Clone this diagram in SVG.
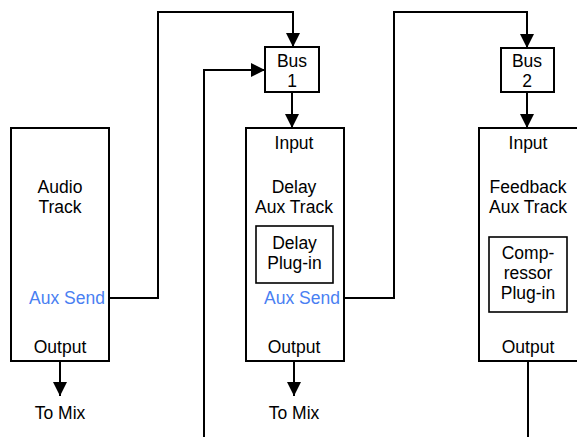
<svg xmlns="http://www.w3.org/2000/svg" width="577" height="437" viewBox="0 0 577 437">
<defs>
<marker id="ah" markerWidth="14" markerHeight="14" viewBox="0 0 14 14" refX="14" refY="7" orient="auto" markerUnits="userSpaceOnUse">
<path d="M0,0 L14,7 L0,14 Z" fill="#000"/>
</marker>
<style>
.box{fill:#fff;stroke:#000;stroke-width:2}
.inner{fill:#fff;stroke:#000;stroke-width:1.6}
.t{font-family:"Liberation Sans",Arial,sans-serif;font-size:17.5px;fill:#000;text-anchor:middle}
.blue{fill:#4a7ff2}
.c{fill:none;stroke:#000;stroke-width:2}
</style>
</defs>
<rect width="577" height="437" fill="#fff"/>
<g id="connectors">
<path class="c" d="M109,298 H158 V12 H293 V47" marker-end="url(#ah)"/>
<path class="c" d="M204,437 V70 H265" marker-end="url(#ah)"/>
<path class="c" d="M292,92 V128" marker-end="url(#ah)"/>
<path class="c" d="M344,298 H394 V12 H527 V48" marker-end="url(#ah)"/>
<path class="c" d="M527,92 V128" marker-end="url(#ah)"/>
<path class="c" d="M60,361 V396" marker-end="url(#ah)"/>
<path class="c" d="M294,361 V396" marker-end="url(#ah)"/>
<path class="c" d="M528,361 V437"/>
</g>
<g id="audio-track">
<rect class="box" x="11" y="128" width="98" height="233"/>
<text class="t" x="60" y="193">Audio</text>
<text class="t" x="60" y="213">Track</text>
<text class="t blue" x="67" y="304">Aux Send</text>
<text class="t" x="60" y="353">Output</text>
</g>
<g id="to-mix-1"><text class="t" x="60" y="419">To Mix</text></g>
<g id="bus1">
<rect class="box" x="265" y="47" width="54" height="45"/>
<text class="t" x="292" y="66.5">Bus</text>
<text class="t" x="292" y="86.5">1</text>
</g>
<g id="delay-aux-track">
<rect class="box" x="246" y="128" width="98" height="233"/>
<text class="t" x="294" y="149">Input</text>
<text class="t" x="294" y="193">Delay</text>
<text class="t" x="294" y="213">Aux Track</text>
<g id="delay-plugin">
<rect class="inner" x="256" y="226" width="77" height="57"/>
<text class="t" x="294.5" y="249">Delay</text>
<text class="t" x="294.5" y="269">Plug-in</text>
</g>
<text class="t blue" x="302" y="304">Aux Send</text>
<text class="t" x="294" y="353">Output</text>
</g>
<g id="to-mix-2"><text class="t" x="294" y="419">To Mix</text></g>
<g id="bus2">
<rect class="box" x="501" y="48" width="53" height="44"/>
<text class="t" x="527" y="66.5">Bus</text>
<text class="t" x="527" y="86.5">2</text>
</g>
<g id="feedback-aux-track">
<rect class="box" x="479" y="128" width="110" height="233"/>
<text class="t" x="528" y="149">Input</text>
<text class="t" x="528" y="193">Feedback</text>
<text class="t" x="528" y="213">Aux Track</text>
<g id="compressor-plugin">
<rect class="inner" x="489" y="237" width="78" height="75"/>
<text class="t" x="528" y="259">Comp-</text>
<text class="t" x="528" y="279">ressor</text>
<text class="t" x="528" y="299">Plug-in</text>
</g>
<text class="t" x="528" y="353">Output</text>
</g>
</svg>
